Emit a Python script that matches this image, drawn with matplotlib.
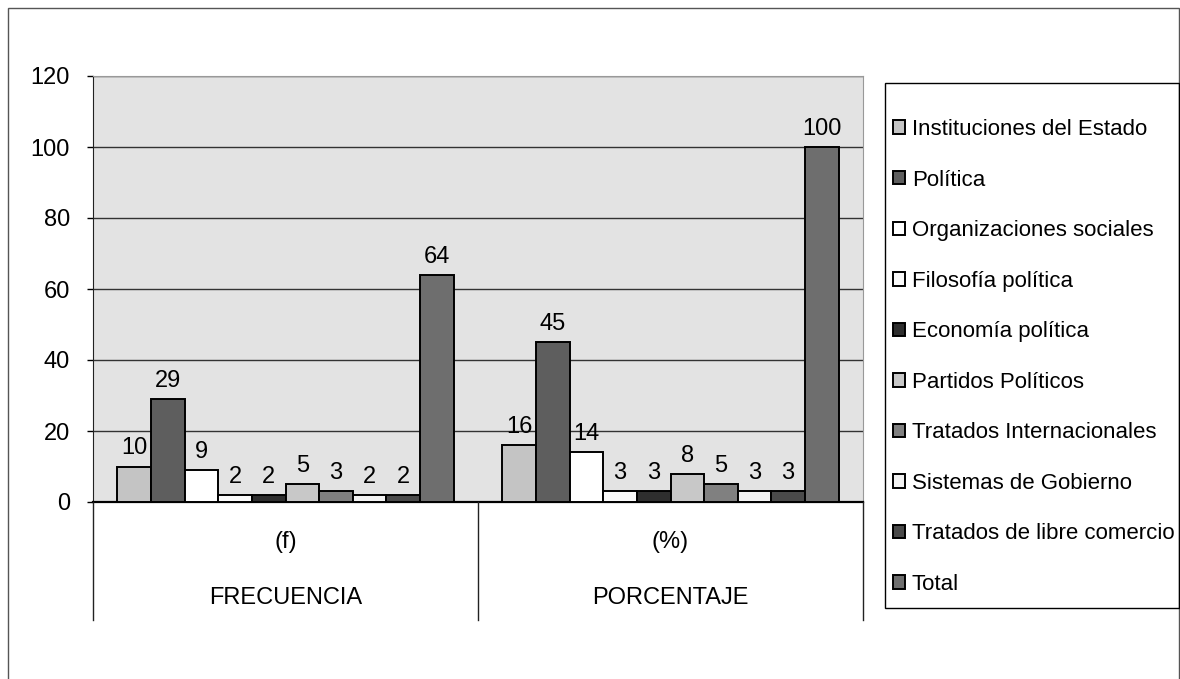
import matplotlib.pyplot as plt
import numpy as np
from matplotlib.patches import Rectangle
from matplotlib.lines import Line2D

plt.rcParams['font.family'] = ['Liberation Sans', 'DejaVu Sans']

groups = ['(f)', '(%)']
group_titles = ['FRECUENCIA', 'PORCENTAJE']
series = ['Instituciones del Estado', 'Política', 'Organizaciones sociales',
          'Filosofía política', 'Economía política', 'Partidos Políticos',
          'Tratados Internacionales', 'Sistemas de Gobierno',
          'Tratados de libre comercio', 'Total']
frecuencia = [10, 29, 9, 2, 2, 5, 3, 2, 2, 64]
porcentaje = [16, 45, 14, 3, 3, 8, 5, 3, 3, 100]
colors = ['#c4c4c4', '#5e5e5e', '#ffffff', '#fafafa', '#2e2e2e',
          '#c8c8c8', '#808080', '#f2f2f2', '#4a4a4a', '#6e6e6e']

W, H = 1180, 679
fig = plt.figure(figsize=(W / 100, H / 100), dpi=100, facecolor='white')

# outer frame
fig.add_artist(Rectangle((8 / W, -0.01), (W - 9) / W, 1 - 8 / H + 0.01,
                         transform=fig.transFigure, fill=False,
                         edgecolor='#555555', linewidth=1))

left, right, top, bottom = 93, 863, 76, 502
ax = fig.add_axes([left / W, 1 - bottom / H, (right - left) / W, (bottom - top) / H])
ax.set_facecolor('#e3e3e3')

x = np.arange(len(groups))
n = len(series)
bw = 0.0873
data = np.array([frecuencia, porcentaje])
for i in range(n):
    pos = x - bw * n / 2 + bw * (i + 0.5)
    bars = ax.bar(pos, data[:, i], width=bw, color=colors[i], edgecolor='black',
                  linewidth=1.4, label=series[i], zorder=3)
    for b, v in zip(bars, data[:, i]):
        ax.text(b.get_x() + b.get_width() / 2, v + 2.0, str(v), ha='center',
                va='bottom', fontsize=17, zorder=4)

ax.set_xlim(-0.5, 1.5)
ax.set_ylim(0, 120)
ax.set_yticks(range(0, 121, 20))
ax.tick_params(axis='y', labelsize=17, length=4.5, width=1, pad=12)
ax.set_xticks([])
ax.yaxis.grid(True, color='#333333', linewidth=1, zorder=1)
ax.set_axisbelow(True)
for s in ['top', 'right']:
    ax.spines[s].set_color('#999999')
ax.spines['left'].set_color('#222222')
ax.spines['bottom'].set_linewidth(1.6)

# category axis (two levels)
for xp in [left, (left + right) / 2, right]:
    fig.add_artist(Line2D([xp / W, xp / W], [1 - bottom / H, 1 - 620 / H],
                          transform=fig.transFigure, color='#222222', linewidth=1))
for i, (g, t) in enumerate(zip(groups, group_titles)):
    cx = (left + (i + 0.5) * (right - left) / 2) / W
    fig.text(cx, 1 - 542 / H, g, ha='center', va='center', fontsize=17)
    fig.text(cx, 1 - 598 / H, t, ha='center', va='center', fontsize=17)

# legend box
fig.add_artist(Rectangle((885 / W, 1 - 608 / H), (1179 - 885) / W, (608 - 83) / H,
                         transform=fig.transFigure, fill=False,
                         edgecolor='black', linewidth=1))
leg = fig.legend(loc='upper left', bbox_to_anchor=(893 / W, 1 - 119 / H),
                 fontsize=16, frameon=False,
                 handlelength=0.55, handleheight=0.55, handletextpad=0.3,
                 labelspacing=1.33, borderpad=0, borderaxespad=0)

fig.savefig('out.png', dpi=100)
